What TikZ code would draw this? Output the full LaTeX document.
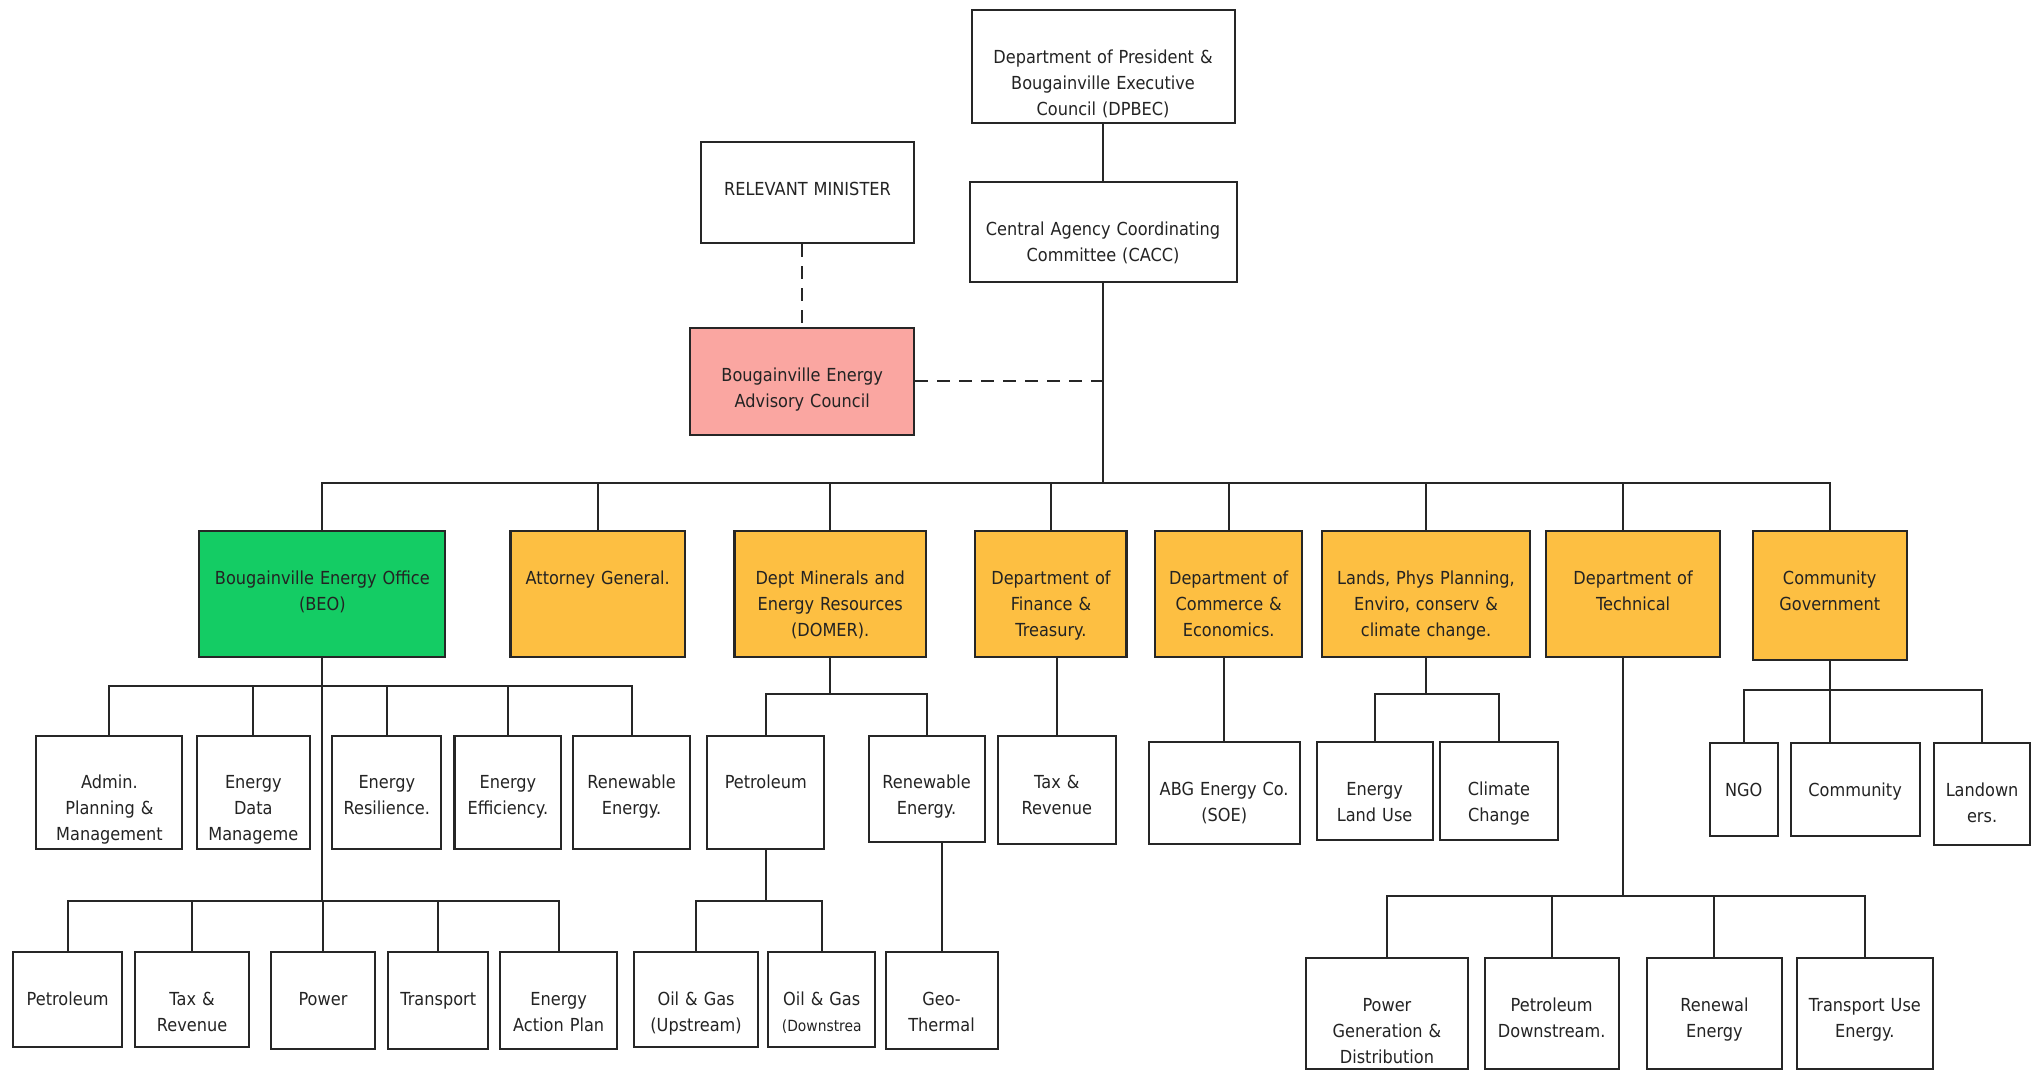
\documentclass[tikz,border=0pt]{standalone}
\usepackage{fontspec}
\setmainfont{DejaVu Sans}[FakeStretch=0.9]
\definecolor{deptorange}{RGB}{253,191,66}
\definecolor{beogreen}{RGB}{20,204,100}
\definecolor{councilpink}{RGB}{250,166,161}
\definecolor{inkgray}{RGB}{35,35,35}
\tikzset{
  orgbox/.style 2 args={draw=black!85, line width=1.1pt, inner sep=0pt, anchor=north, align=center,
    text width=#1*0.025cm, text height=41*0.025cm, text depth=(#2-41)*0.025cm},
  link/.style={draw=black!85, line width=1.1pt},
  dashlink/.style={link, dash pattern=on 7pt off 5pt},
}
\begin{document}
\begin{tikzpicture}[x=0.025cm, y=-0.025cm, font=\fontsize{9.8}{14.2}\selectfont, text=inkgray]
  \useasboundingbox (0,0) rectangle (1568,822);
  % executive level
  \node[orgbox={202}{87}] (dpbec) at (847,7) {Department of President \&\\Bougainville Executive\\Council (DPBEC)};
  \node[orgbox={164}{78}] (rm) at (620,108) {RELEVANT MINISTER};
  \node[orgbox={205}{77}] (cacc) at (847,139) {Central Agency Coordinating\\Committee (CACC)};
  \node[orgbox={172}{82}, fill=councilpink] (beac) at (616,251) {Bougainville Energy\\Advisory Council};
  % departments
  \node[orgbox={189}{97}, fill=beogreen] (beo) at (247.5,407) {Bougainville Energy Office\\(BEO)};
  \foreach \nm/\x/\w/\h/\txt in {ag/459/134/97/{Attorney General.},
      domer/637.5/147/97/{Dept Minerals and\\Energy Resources\\(DOMER).},
      fin/807/116/97/{Department of\\Finance \&\\Treasury.},
      com/943.5/113/97/{Department of\\Commerce \&\\Economics.},
      lands/1095/160/97/{Lands, Phys Planning,\\Enviro, conserv \&\\climate change.},
      tech/1254/134/97/{Department of\\Technical},
      cg/1405/118/99/{Community\\Government}} {
    \node[orgbox={\w}{\h}, fill=deptorange] (\nm) at (\x,407) {\txt};}
  % units
  \foreach \nm/\x/\w/\txt in {admin/84/112/{Admin.\\Planning \&\\Management},
      edata/194.5/87/{Energy\\Data\\Manageme},
      resil/297/84/{Energy\\Resilience.},
      effic/390/82/{Energy\\Efficiency.},
      renew1/485/90/{Renewable\\Energy.}} {
    \node[orgbox={\w}{87}] (\nm) at (\x,564) {\txt};}
  \foreach \nm/\x/\y/\w/\h/\txt in {pet2/588/564/90/87/{Petroleum},
      renew2/711.5/564/89/82/{Renewable\\Energy.},
      tax2/811.5/564/91/83/{Tax \&\\Revenue},
      abg/940/569/116/78/{ABG Energy Co.\\(SOE)},
      eland/1055.5/569/89/75/{Energy\\Land Use},
      clim/1151/569/90/75/{Climate\\Change},
      ngo/1339/570/52/71/{NGO},
      commu/1424.5/570/99/71/{Community},
      lown/1522/570/74/78/{Landown\\ers.},
      pet1/52/730/84/73/{Petroleum},
      tax1/147.5/730/87/73/{Tax \&\\Revenue},
      power/248/730/80/75/{Power},
      transp/336.5/730/77/75/{Transport},
      eap/429/730/90/75/{Energy\\Action Plan},
      ogup/534.5/730/95/73/{Oil \& Gas\\(Upstream)},
      ogdown/631/730/82/73/{Oil \& Gas\\{\fontsize{8.4}{14.2}\selectfont(Downstrea}},
      geo/723/730/86/75/{Geo-\\Thermal},
      pgen/1065/735/124/85/{Power\\Generation \&\\Distribution},
      pdown/1191.5/735/103/85/{Petroleum\\Downstream.},
      renew3/1316.5/735/103/85/{Renewal\\Energy},
      tuse/1432/735/104/85/{Transport Use\\Energy.}} {
    \node[orgbox={\w}{\h}] (\nm) at (\x,\y) {\txt};}

  % main trunk
  \coordinate (busMain) at (847,371);
  \draw[link] (dpbec.south) -- (cacc.north);
  \draw[link] (cacc.south) -- (busMain);
  \draw[link] (beo.north) |- (busMain) -| (cg.north);
  \foreach \nm in {ag,domer,fin,com,lands} \draw[link] (\nm.north) -- (\nm.north |- busMain);
  \coordinate (busTech) at (1246,688);
  \draw[link] (busTech |- busMain) -- (busTech |- tech.north);
  \draw[dashlink] (beac.north |- rm.south) -- (beac.north);
  \draw[dashlink] (beac.east) -- (beac.east -| busMain);
  % BEO
  \coordinate (busBeoA) at (247.5,527);
  \coordinate (busBeoB) at (247.5,692);
  \draw[link] (beo.south) -- (busBeoB);
  \draw[link] (admin.north) |- (busBeoA) -| (renew1.north);
  \foreach \nm in {edata,resil,effic} \draw[link] (\nm.north) -- (\nm.north |- busBeoA);
  \draw[link] (pet1.north) |- (busBeoB) -| (eap.north);
  \foreach \nm in {tax1,power,transp} \draw[link] (\nm.north) -- (\nm.north |- busBeoB);
  % DOMER
  \coordinate (busDomer) at (637.5,533);
  \draw[link] (domer.south) -- (busDomer);
  \draw[link] (pet2.north) |- (busDomer) -| (renew2.north);
  \coordinate (busPet) at (588,692);
  \draw[link] (pet2.south) -- (busPet);
  \draw[link] (ogup.north) |- (busPet) -| (ogdown.north);
  \draw[link] (renew2.south -| geo.north) -- (geo.north);
  % finance, commerce, lands
  \draw[link] (tax2.north |- fin.south) -- (tax2.north);
  \draw[link] (abg.north |- com.south) -- (abg.north);
  \coordinate (busLands) at (1095,533);
  \draw[link] (lands.south) -- (busLands);
  \draw[link] (eland.north) |- (busLands) -| (clim.north);
  % technical
  \draw[link] (busTech |- tech.south) -- (busTech);
  \draw[link] (pgen.north) |- (busTech) -| (tuse.north);
  \foreach \nm in {pdown,renew3} \draw[link] (\nm.north) -- (\nm.north |- busTech);
  % community government
  \coordinate (busCg) at (1405,530);
  \draw[link] (cg.south) -- (cg.south |- commu.north);
  \draw[link] (ngo.north) |- (busCg) -| (lown.north);
\end{tikzpicture}
\end{document}
